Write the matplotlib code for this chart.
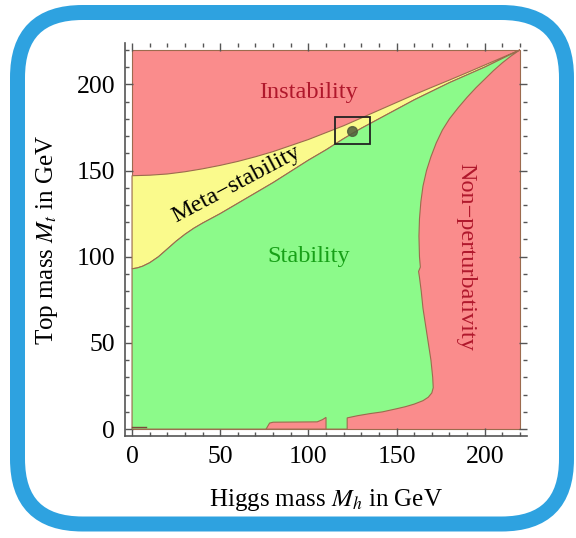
import matplotlib
matplotlib.use("Agg")
import matplotlib.pyplot as plt
from matplotlib.patches import Polygon, Rectangle, FancyBboxPatch
from matplotlib.ticker import MultipleLocator

plt.rcParams['font.family'] = ['Liberation Serif', 'DejaVu Serif']
plt.rcParams['mathtext.fontset'] = 'stix'

# boundary between instability and meta-stability
upper_x = [0, 10, 20, 30, 40, 50, 60, 70, 80, 90, 100, 110, 120, 130, 140, 150, 160, 170, 180, 190, 200, 210, 220]
upper_y = [147, 147.3, 148, 149.3, 151, 153, 155.3, 158, 161, 164.5, 168, 172, 176, 180.5, 185, 189.5, 194, 198.3, 202.5, 206.8, 211.2, 215.6, 220]

# boundary between meta-stability and stability
lower_x = [0, 3, 6, 10, 15, 20, 25, 30, 35, 40, 50, 60, 70, 80, 90, 100, 110, 120, 130, 140,
           150, 160, 170, 180, 190, 200, 210, 220]
lower_y = [93, 93.5, 94.5, 96.5, 100, 104.5, 109, 113, 116.5, 119.5, 125, 131, 137, 143, 149.5, 156,
           162, 168.5, 174.5, 180, 185.5, 191, 196, 201, 205.5, 210, 215, 220]

# boundary of the non-perturbativity region (from the top corner downwards)
np_x = [220, 215, 210, 205, 200, 195, 190, 185, 180, 176, 172.5, 169.5, 167, 165, 163.8, 163, 162.7,
        163, 163.5, 162.5, 163, 164, 165, 166.5, 168, 169.5, 170.5, 170.8, 170, 168, 165, 160,
        155, 150, 142, 135, 128, 122, 122]
np_y = [220, 216.5, 212.5, 208, 203, 198, 192.5, 186.5, 180, 173.5, 166, 158, 150, 141, 132, 122, 112,
        100, 94, 91.5, 88, 80, 70, 60, 50, 40, 30, 24, 21, 18.5, 16.5, 14.5,
        13, 11.8, 10, 9, 7.8, 6.5, 0]

# small non-perturbative patch near the bottom
blob_x = [76, 78, 80, 105, 108, 110, 110]
blob_y = [0, 3.5, 4, 4.2, 5.5, 6.8, 0]

# measured point and its box
higgs_mass = 125
top_mass = 173
box_x = [115, 135]
box_y = [165.5, 181]

red = '#fa8c8c'
yellow = '#fafa8c'
green = '#8cfa8a'
edge = '#9c6b4e'

fig = plt.figure(figsize=(5.76, 5.38), dpi=100)
ax = fig.add_axes([0.217, 0.1896, 0.698, 0.7305])

# background: instability everywhere
ax.add_patch(Rectangle((0, 0), 220, 220, facecolor=red, edgecolor=edge, lw=0.8, zorder=1))

# meta-stability band
meta_pts = list(zip(upper_x, upper_y)) + list(zip(lower_x[::-1], lower_y[::-1]))
ax.add_patch(Polygon(meta_pts, closed=True, facecolor=yellow, edgecolor=edge, lw=0.8, zorder=2))

# stability region
stab_pts = list(zip(lower_x, lower_y)) + list(zip(np_x[1:], np_y[1:])) + [(0, 0)]
ax.add_patch(Polygon(stab_pts, closed=True, facecolor=green, edgecolor=edge, lw=0.8, zorder=3))

ax.add_patch(Polygon(list(zip(blob_x, blob_y)), closed=True, facecolor=red, edgecolor=edge, lw=0.8, zorder=4))
ax.plot([0, 8], [1, 1], color='#7a4a3a', lw=1.0, zorder=4)

# measured point
ax.add_patch(Rectangle((box_x[0], box_y[0]), box_x[1] - box_x[0], box_y[1] - box_y[0],
                       fill=False, edgecolor='#222222', lw=1.3, zorder=6))
ax.plot([higgs_mass], [top_mass], 'o', ms=7, color='#4f5a3a', alpha=0.85, zorder=5)

# region labels
ax.text(100, 195, 'Instability', color='#b0182c', fontsize=17.5, ha='center', va='center', zorder=7)
ax.text(100, 100, 'Stability', color='#17a017', fontsize=17.5, ha='center', va='center', zorder=7)
ax.text(59, 142, 'Meta\u2212stability', color='black', fontsize=17.5, ha='center', va='center',
        rotation=28, zorder=7)
ax.text(189, 100, 'Non\u2212perturbativity', color='#b0182c', fontsize=17.5, ha='center', va='center',
        rotation=-90, zorder=7)

ax.set_xlim(-4, 224)
ax.set_ylim(-4, 224)

for s in ['top', 'right']:
    ax.spines[s].set_visible(False)
for s in ['left', 'bottom']:
    ax.spines[s].set_color('#555555')
    ax.spines[s].set_linewidth(1.2)

ax.xaxis.set_minor_locator(MultipleLocator(10))
ax.yaxis.set_minor_locator(MultipleLocator(10))
ax.set_xticks([0, 50, 100, 150, 200])
ax.set_yticks([0, 50, 100, 150, 200])
ax.tick_params(which='both', direction='in', top=True, right=True, color='#555555')
ax.tick_params(which='major', length=6, width=1)
ax.tick_params(which='minor', length=3, width=1)
ax.tick_params(axis='x', labelsize=18.5, pad=7)
ax.tick_params(axis='y', labelsize=18.5, pad=7)

ax.set_xlabel('Higgs mass $M_h$ in GeV', fontsize=18, labelpad=14)
ax.set_ylabel('Top mass $M_t$ in GeV', fontsize=18, labelpad=12)

# rounded blue frame around the whole chart
fig.patches.append(FancyBboxPatch((17.5, 14), 549, 511.5,
                                  boxstyle='round,pad=0,rounding_size=65',
                                  facecolor='none', edgecolor='#2ea2e0', lw=10.8,
                                  transform=None, figure=fig))

fig.savefig('out.png', dpi=100, facecolor='white')
